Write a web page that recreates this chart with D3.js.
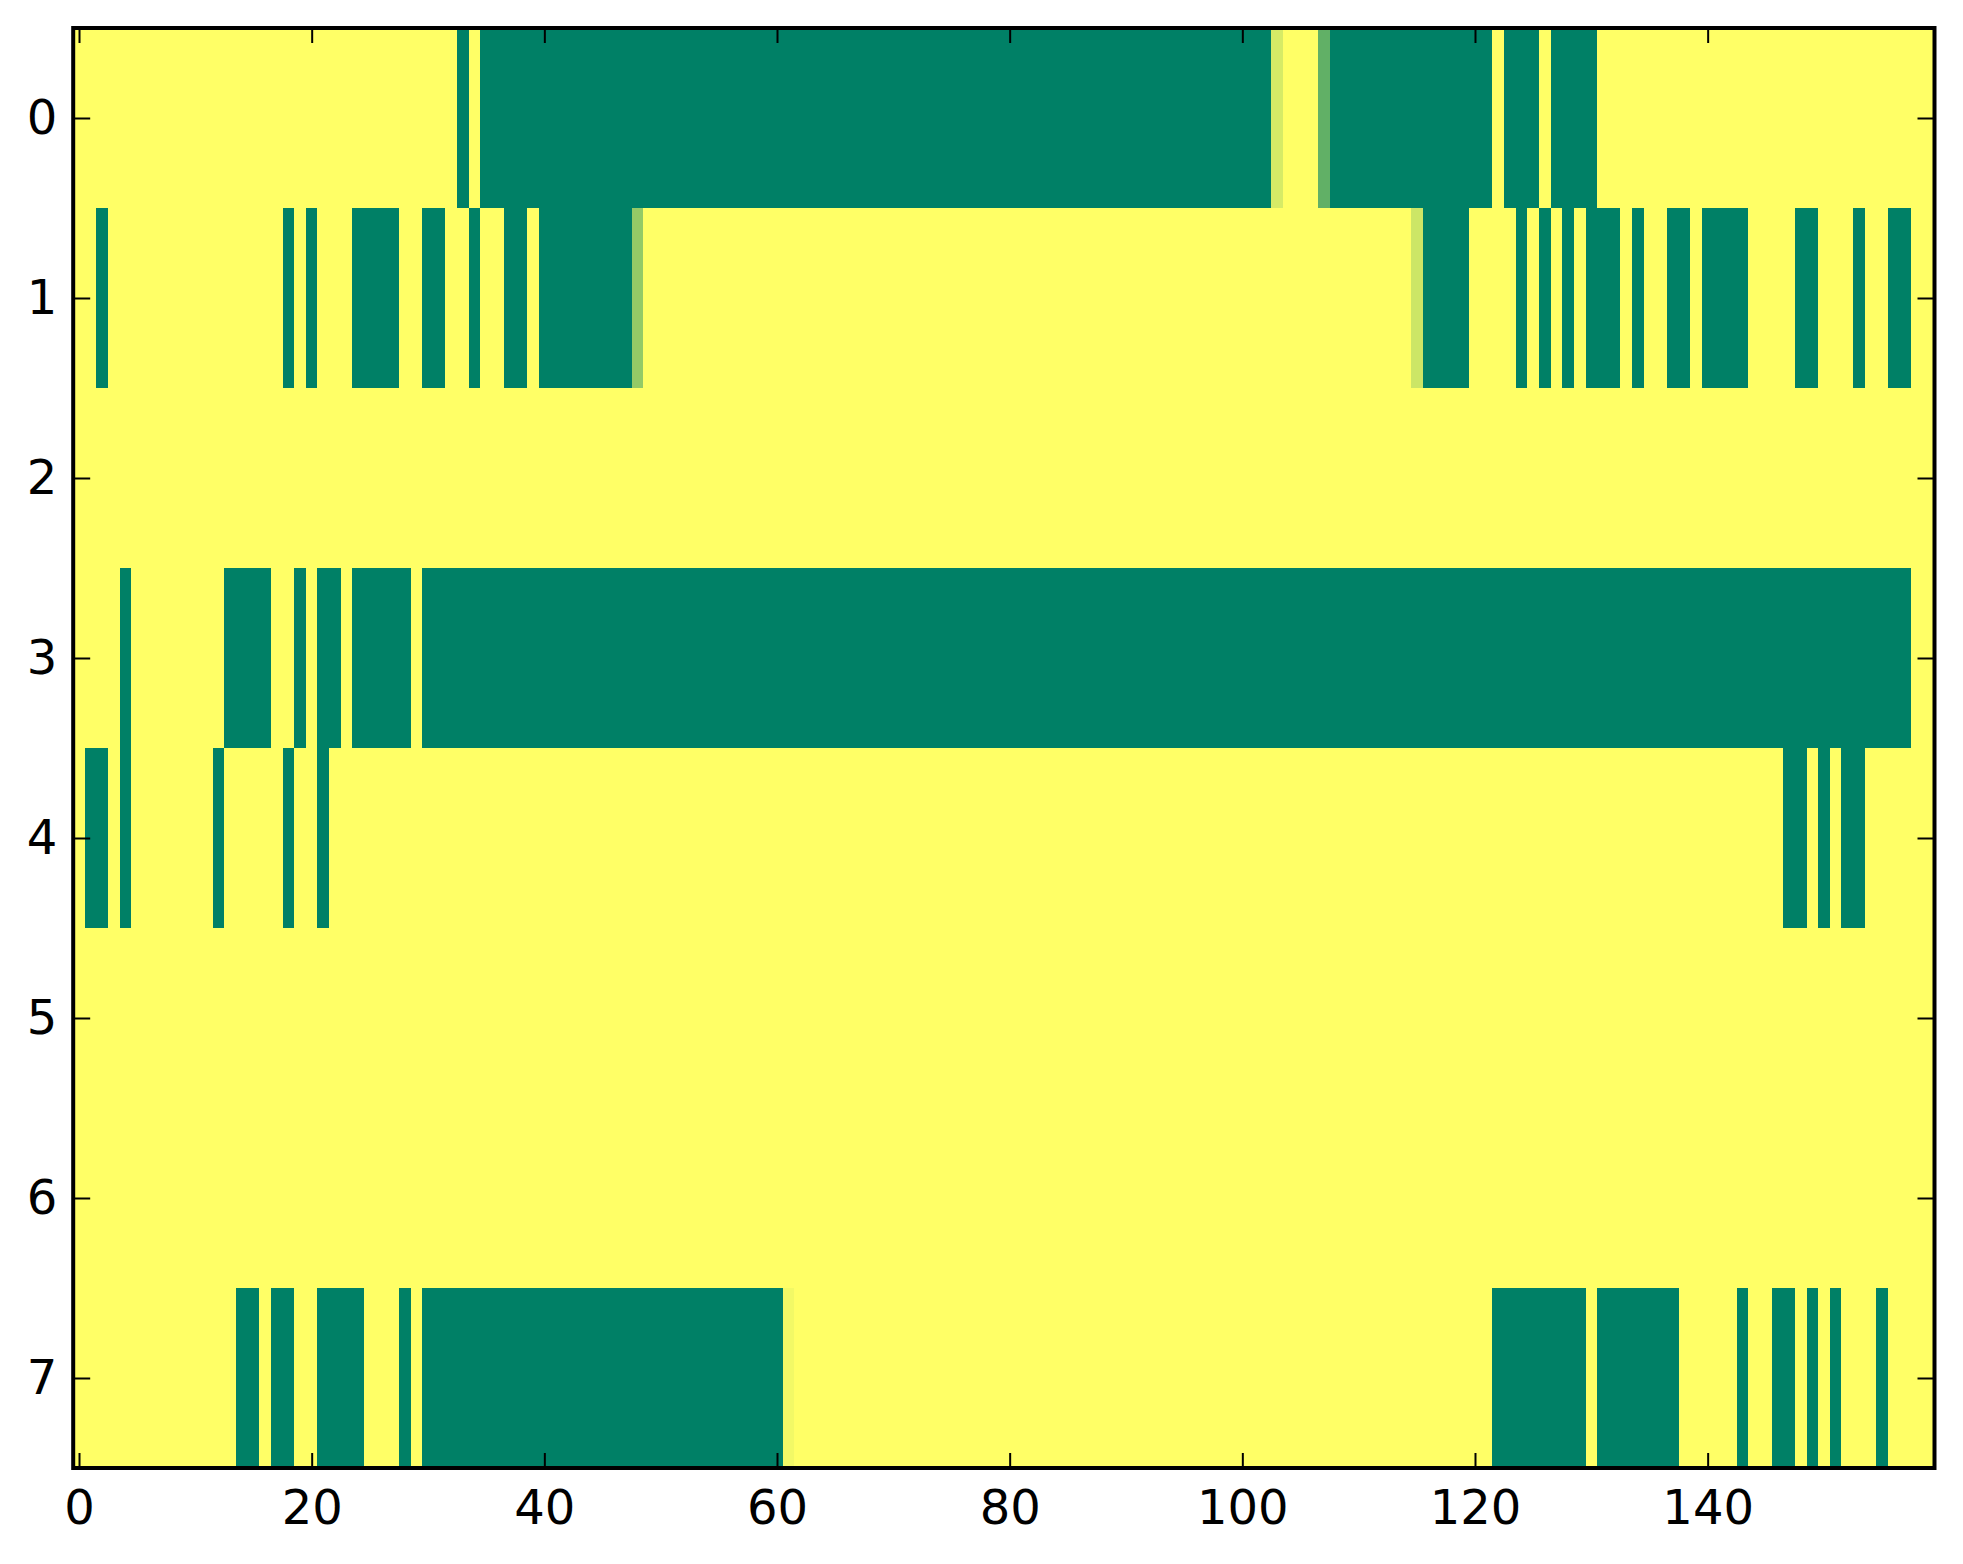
<!DOCTYPE html>
<html>
<head>
<meta charset="utf-8">
<script src="https://cdn.jsdelivr.net/npm/d3@7"></script>
<style>
  body { margin: 0; background: #fff; }
  svg { display: block; font-family: "DejaVu Sans", sans-serif; }
</style>
</head>
<body>
<div id="chartDiv"></div>
<script>
// 8 rows x 160 columns, values 0..1 shown with the "summer" colormap.
// Cells are 1 (yellow) unless listed below.
const nRows = 8;
const nCols = 160;

// runs of value 0 (dark green), per row: [firstCol, lastCol]
const greenRuns = [
  [[33, 33], [35, 102], [108, 121], [123, 125], [127, 130]],
  [[2, 2], [18, 18], [20, 20], [24, 27], [30, 31], [34, 34], [37, 38], [40, 47],
   [116, 119], [124, 124], [126, 126], [128, 128], [130, 132], [134, 134],
   [137, 138], [140, 143], [148, 149], [153, 153], [156, 157]],
  [],
  [[4, 4], [13, 16], [19, 19], [21, 22], [24, 28], [30, 157]],
  [[1, 2], [4, 4], [12, 12], [18, 18], [21, 21], [147, 148], [150, 150], [152, 153]],
  [],
  [],
  [[14, 15], [17, 18], [21, 24], [28, 28], [30, 60], [122, 129], [131, 137],
   [143, 143], [146, 147], [149, 149], [151, 151], [155, 155]]
];

// in-between cells: [row, col, value]
const partialCells = [
  [0, 103, 0.84],
  [0, 107, 0.38],
  [1, 48, 0.58],
  [1, 115, 0.80],
  [7, 61, 0.95]
];

const xTicks = [0, 20, 40, 60, 80, 100, 120, 140];
const yTicks = [0, 1, 2, 3, 4, 5, 6, 7];

// build the grid
const cells = [];
for (let r = 0; r < nRows; r++) {
  const row = new Array(nCols).fill(1);
  greenRuns[r].forEach(([a, b]) => { for (let c = a; c <= b; c++) row[c] = 0; });
  partialCells.filter(p => p[0] === r).forEach(([, c, v]) => { row[c] = v; });
  row.forEach((v, c) => cells.push({row: r, col: c, value: v}));
}

const width = 1963, height = 1564;
const margin = {top: 28, right: 28.5, bottom: 96, left: 73.2};

const x = d3.scaleLinear().domain([-0.5, nCols - 0.5]).range([margin.left, width - margin.right]);
const y = d3.scaleLinear().domain([-0.5, nRows - 0.5]).range([margin.top, height - margin.bottom]);
// matplotlib "summer"
const color = d3.scaleLinear().domain([0, 1]).range(["rgb(0,128,102)", "rgb(255,255,102)"]);

const svg = d3.create("svg")
  .attr("width", width)
  .attr("height", height)
  .attr("viewBox", [0, 0, width, height]);

svg.append("g")
  .attr("shape-rendering", "crispEdges")
  .selectAll("rect")
  .data(cells)
  .join("rect")
  .attr("x", d => x(d.col - 0.5))
  .attr("y", d => y(d.row - 0.5))
  .attr("width", d => x(d.col + 0.5) - x(d.col - 0.5) + 0.5)
  .attr("height", d => y(d.row + 0.5) - y(d.row - 0.5) + 0.5)
  .attr("fill", d => color(d.value));

const x0 = x.range()[0], x1 = x.range()[1];
const y0 = y.range()[0], y1 = y.range()[1];

function styleAxis(g) {
  g.attr("font-family", "'DejaVu Sans', sans-serif").attr("font-size", 48);
  g.select(".domain").remove();
  g.selectAll(".tick line").attr("stroke", "#000").attr("stroke-width", 2);
  g.selectAll(".tick text").attr("fill", "#000");
}

svg.append("g")
  .attr("transform", `translate(0,${y1})`)
  .call(d3.axisBottom(x).tickValues(xTicks).tickSize(-15).tickPadding(22).tickSizeOuter(0))
  .call(styleAxis);

svg.append("g")
  .attr("transform", `translate(0,${y0})`)
  .call(d3.axisTop(x).tickValues(xTicks).tickSize(-15).tickFormat("").tickSizeOuter(0))
  .call(styleAxis);

svg.append("g")
  .attr("transform", `translate(${x0},0)`)
  .call(d3.axisLeft(y).tickValues(yTicks).tickSize(-17).tickPadding(16).tickSizeOuter(0))
  .call(styleAxis);

svg.append("g")
  .attr("transform", `translate(${x1},0)`)
  .call(d3.axisRight(y).tickValues(yTicks).tickSize(-17).tickFormat("").tickSizeOuter(0))
  .call(styleAxis);

// frame
svg.append("rect")
  .attr("x", x0)
  .attr("y", y0)
  .attr("width", x1 - x0)
  .attr("height", y1 - y0)
  .attr("fill", "none")
  .attr("stroke", "#000")
  .attr("stroke-width", 4);

document.getElementById("chartDiv").appendChild(svg.node());
</script>
</body>
</html>
